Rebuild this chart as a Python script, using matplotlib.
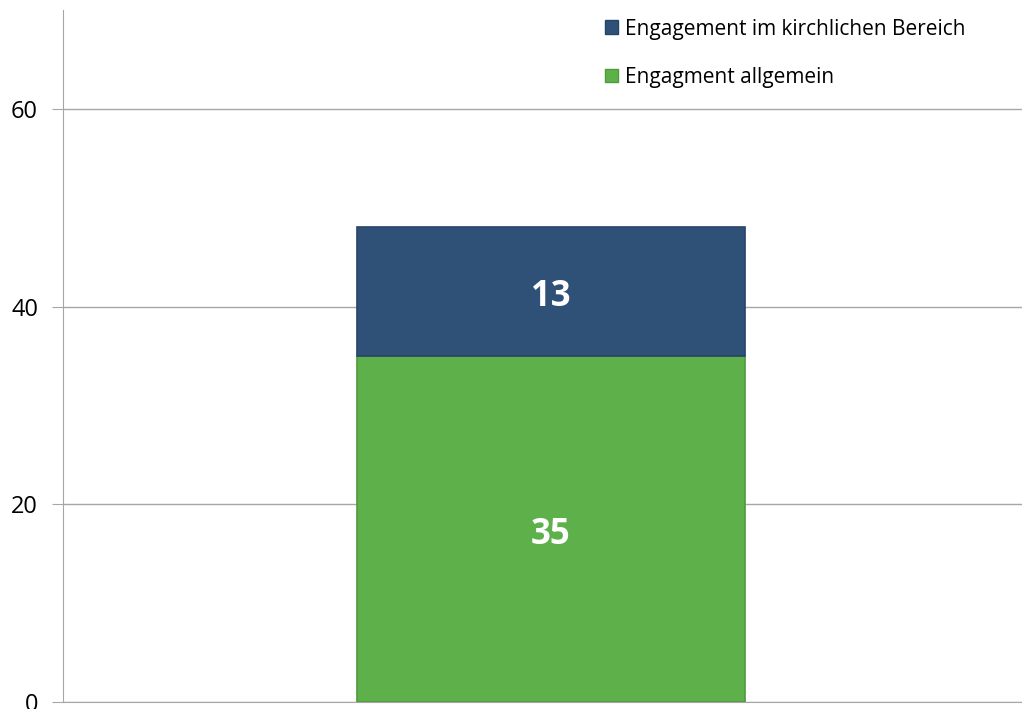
import matplotlib
matplotlib.use("Agg")
import matplotlib.pyplot as plt
from matplotlib.patches import Patch

plt.rcParams['font.family'] = ['Open Sans', 'DejaVu Sans']

categories = [""]
allgemein = [35]
kirchlich = [13]
series_labels = ["Engagment allgemein", "Engagement im kirchlichen Bereich"]
colors = ["#5EB14A", "#2F5077"]
yticks = [0, 20, 40, 60]

fig = plt.figure(figsize=(10.22, 7.09), dpi=100)
ax = fig.add_axes([63/1022, 7/709, 1 - 63/1022, 692/709])

x = [0]
b1 = ax.bar(x, allgemein, width=1.0, color=colors[0], edgecolor="#4E9A3C", linewidth=1.2, zorder=3)
b2 = ax.bar(x, kirchlich, bottom=allgemein, width=1.0, color=colors[1], edgecolor="#27436A", linewidth=1.2, zorder=3)

for bars, vals in ((b1, allgemein), (b2, kirchlich)):
    for rect, v in zip(bars, vals):
        ax.annotate(str(v), (rect.get_x() + rect.get_width()/2, rect.get_y() + rect.get_height()/2),
                    xytext=(0, -4), textcoords="offset points",
                    ha="center", va="center", color="white", fontsize=25, fontweight="bold", zorder=4)

ax.set_xlim(-1.258, 1.214)
ax.set_ylim(0, 70)
ax.set_yticks(yticks)
ax.set_yticklabels([str(t) for t in yticks], fontsize=17)
ax.set_xticks([])
ax.grid(axis="y", color="#A6A6A6", linewidth=1, zorder=0)
for s in ["top", "right"]:
    ax.spines[s].set_visible(False)
ax.spines["left"].set_color("#A6A6A6")
ax.spines["bottom"].set_color("#A6A6A6")
ax.tick_params(axis="y", length=8, color="#A6A6A6", pad=10)

handles = [Patch(facecolor=colors[1], edgecolor="#27436A"), Patch(facecolor=colors[0], edgecolor="#4E9A3C")]
leg = ax.legend(handles, [series_labels[1], series_labels[0]], loc="upper left",
                bbox_to_anchor=(586/1022, 1.0), bbox_transform=fig.transFigure,
                frameon=False, fontsize=15, handlelength=0.65, handleheight=0.65,
                handletextpad=0.3, labelspacing=1.3, borderaxespad=0.5)

fig.savefig("out.png", dpi=100)
